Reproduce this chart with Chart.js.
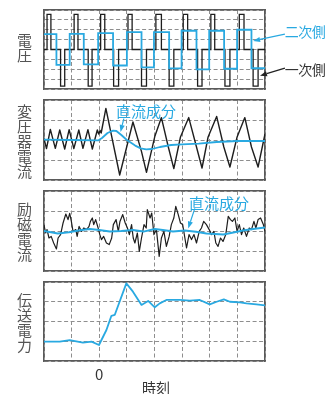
<!DOCTYPE html>
<html>
<head>
<meta charset="utf-8">
<script src="https://cdn.jsdelivr.net/npm/chart.js@4.4.1/dist/chart.umd.min.js"></script>
<style>
  html, body { margin: 0; padding: 0; background: #fff; }
  #wrap { position: relative; width: 331px; height: 394px; overflow: hidden;
          font-family: "Noto Sans CJK JP", "Noto Sans", sans-serif; }
  canvas { position: absolute; left: 0; }
  .vlab { position: absolute; left: 12px; width: 25px; text-align: center;
          color: #555; font-size: 15px; line-height: 15px; }
  .txt { position: absolute; white-space: nowrap; line-height: 1;
         transform: translate(-50%, -50%); }
</style>
</head>
<body>
<div id="wrap">
  <canvas id="c1"></canvas>
  <canvas id="c2"></canvas>
  <canvas id="c3"></canvas>
  <canvas id="c4"></canvas>

  <div class="vlab" style="top:32px">電<br>圧</div>
  <div class="vlab" style="top:103px">変<br>圧<br>器<br>電<br>流</div>
  <div class="vlab" style="top:201px">励<br>磁<br>電<br>流</div>
  <div class="vlab" style="top:292px">伝<br>送<br>電<br>力</div>

  <div class="txt" style="left:305px;top:31px;font-size:14px;letter-spacing:-0.5px;color:#29a9e1">二次側</div>
  <div class="txt" style="left:305px;top:69px;font-size:14px;letter-spacing:-0.5px;color:#333">一次側</div>
  <div class="txt" style="left:146px;top:110px;font-size:15px;color:#29a9e1">直流成分</div>
  <div class="txt" style="left:219px;top:202px;font-size:15px;color:#29a9e1">直流成分</div>

  <div id="tick0" class="txt" style="top:373px;font-size:15px;color:#333"></div>
  <div class="txt" style="left:156px;top:387px;font-size:14px;color:#333">時刻</div>
</div>

<script>
// Time axis is measured in grid divisions (8 per panel); the step occurs at division 2.
const timeTickValues = [2];
const timeTickLabels = ['0'];

// --- 電圧: primary (一次側) three-level pulses, edges in divisions
const priPosOn  = [0.11, 1.09, 2.05, 3.04, 4.05, 5.04, 6.04, 7.07];
const priPosOff = [0.25, 1.23, 2.20, 3.19, 4.25, 5.20, 6.18, 7.24];
const priNegOn  = [0.60, 1.60, 2.52, 3.53, 4.53, 5.56, 6.55, 7.57];
const priNegOff = [0.75, 1.74, 2.70, 3.71, 4.70, 5.72, 6.73, 7.75];
const priHigh = 3.55;
const priLow = -3.7;

// --- 電圧: secondary (二次側) square wave, switching instants and levels
const secEdges  = [0, 0.45, 0.93, 1.44, 1.96, 2.50, 3.00, 3.53, 3.98, 4.53, 4.98, 5.52, 5.98, 6.52, 6.99, 7.51, 8];
const secLevels = [1.55, -1.55, 1.58, -1.5, 1.65, -1.62, 1.75, -1.82, 1.75, -1.92, 1.9, -2.02, 1.9, -1.95, 2.0, -1.9];

// --- 変圧器電流 (transformer current)
const trX = [0, 0.09, 0.23, 0.41, 0.57, 0.75, 0.91, 1.08, 1.26, 1.41, 1.59, 1.75, 1.93, 1.98, 2.03, 2.07,
             2.24, 2.74, 3.22, 3.53, 3.71, 4.01, 4.25, 4.50, 4.70, 4.94, 5.24, 5.52, 5.72, 5.94,
             6.25, 6.51, 6.73, 6.99, 7.27, 7.51, 7.75, 8.0];
const trY = [0.07, -0.43, 0.53, -0.42, 0.5, -0.45, 0.52, -0.43, 0.5, -0.42, 0.52, -0.45, 0.5, 0.3, 0.48, 0.35,
             1.58, -1.75, 0.9, -0.58, -1.62, 0.17, 1.12, -0.35, -1.43, 0.15, 1.12, -0.35, -1.4, 0.15,
             1.18, -0.35, -1.35, 0.15, 1.12, -0.35, -1.35, 0.3];
const trDcX = [0, 1.0, 1.96, 2.1, 2.3, 2.5, 2.62, 2.8, 3.0, 3.3, 3.5, 3.7, 3.9, 4.2, 4.6, 5.0, 5.6, 6.25, 7.0, 8.0];
const trDcY = [0.02, 0.0, -0.02, 0.1, 0.35, 0.47, 0.45, 0.25, 0.0, -0.28, -0.42, -0.47, -0.45, -0.35, -0.25, -0.22, -0.18, -0.1, -0.05, -0.05];

// --- 励磁電流 (magnetizing current)
const exX = [0, 0.06, 0.11, 0.18, 0.26, 0.35, 0.45, 0.51, 0.6, 0.69, 0.79, 0.87, 0.93, 0.99, 1.05, 1.15, 1.2,
             1.27, 1.36, 1.44, 1.54, 1.63, 1.68, 1.75, 1.8, 1.87, 1.96, 2.02, 2.08, 2.16, 2.26, 2.36, 2.45,
             2.51, 2.61, 2.69, 2.75, 2.85, 2.94, 3.02, 3.09, 3.17, 3.23, 3.29, 3.38, 3.45, 3.53, 3.62, 3.7,
             3.74, 3.84, 3.9, 3.98, 4.07, 4.17, 4.25, 4.34, 4.43, 4.53, 4.61, 4.7, 4.77, 4.86, 4.94, 5.02,
             5.1, 5.16, 5.25, 5.34, 5.43, 5.52, 5.62, 5.7, 5.78, 5.88, 5.98, 6.06, 6.15, 6.22, 6.3, 6.39,
             6.48, 6.58, 6.67, 6.75, 6.82, 6.91, 6.99, 7.07, 7.15, 7.23, 7.33, 7.43, 7.51, 7.6, 7.67, 7.75,
             7.84, 7.94, 8.0];
const exY = [0.3, -0.1, 0.07, -0.35, -0.27, -0.6, -0.9, -0.35, -0.18, 0.4, 0.85, 0.57, 0.88, 0.48, -0.02, 0.07, -0.27,
             0.23, -0.02, 0.15, 0.07, 0.23, 0.48, 0.65, 0.32, 0.57, 0.15, -0.18, -0.43, -0.27, -0.6, -0.68, -0.35,
             0.32, 0.57, -0.02, 0.48, 0.82, 0.4, 0.15, -0.18, 0.32, -0.35, -0.6, -0.1, -1.02, -0.35, 0.32, 0.15,
             1.07, 0.65, 0.9, -0.18, 0.07, -1.27, -0.35, -0.02, -0.77, -0.27, 0.32, 0.65, 1.23, 0.82, 0.4, 0.32,
             -0.35, -0.85, -0.18, -0.43, -0.18, -0.6, -0.02, 0.15, 0.48, 0.32, 0.07, -0.18, -0.02, -0.6, -0.77, -0.35,
             -0.52, -0.18, 0.73, 0.57, 0.48, 0.65, -0.02, 0.32, -0.18, 0.15, -0.27, 0.15, 0.07, 0.48, 0.15, 0.57,
             0.65, 0.32, -0.02];
const exDcX = [0, 0.5, 0.9, 1.3, 1.66, 2.0, 2.38, 2.8, 3.22, 3.6, 4.01, 4.3, 4.67, 5.1, 5.5, 5.88, 6.2, 6.49, 6.9, 7.2, 7.57, 8.0];
const exDcY = [0.0, -0.12, -0.06, 0.04, 0.1, 0.05, -0.03, 0.0, 0.05, -0.03, 0.1, 0.05, -0.03, 0.02, -0.04, -0.12, -0.15, -0.17, -0.06, 0.02, 0.1, 0.18];

// --- 伝送電力 (transmitted power)
const powX = [0, 0.57, 0.93, 1.41, 1.72, 1.99, 2.26, 2.44, 2.56, 2.98, 3.22, 3.53, 3.77, 4.01, 4.19, 4.43,
              4.92, 5.28, 5.64, 6.0, 6.25, 6.51, 6.73, 7.09, 7.33, 7.69, 8.0];
const powY = [0.98, 0.98, 1.06, 0.93, 0.98, 0.81, 1.57, 2.29, 2.33, 3.93, 3.51, 2.84, 3.04, 2.72, 2.92, 3.09,
              3.09, 3.06, 3.09, 2.87, 3.0, 3.12, 3.0, 2.97, 2.92, 2.87, 2.82];

const BLUE = '#29a9e1';
const BLACK = '#1e1e1e';
const GRID = '#8e8e8e';
const FRAME = '#5a5a5a';

const pairs = (xs, ys) => xs.map((x, i) => ({ x, y: ys[i] }));

function primaryPoints() {
  const pts = [{ x: 0, y: 0 }];
  priPosOn.forEach((on, k) => {
    pts.push({ x: on, y: 0 }, { x: on, y: priHigh }, { x: priPosOff[k], y: priHigh }, { x: priPosOff[k], y: 0 });
    pts.push({ x: priNegOn[k], y: 0 }, { x: priNegOn[k], y: priLow }, { x: priNegOff[k], y: priLow }, { x: priNegOff[k], y: 0 });
  });
  pts.push({ x: 8, y: 0 });
  return pts;
}

function secondaryPoints() {
  const pts = [];
  secLevels.forEach((lv, i) => {
    pts.push({ x: secEdges[i], y: lv }, { x: secEdges[i + 1], y: lv });
  });
  return pts;
}

// small arrows pointing from a caption to a trace, placed in data units
function arrowPlugin(items) {
  return {
    id: 'captionArrows',
    afterDraw(chart) {
      const { ctx } = chart;
      const xs = chart.scales.x, ys = chart.scales.y;
      items.forEach(a => {
        const x1 = xs.getPixelForValue(a.from[0]), y1 = ys.getPixelForValue(a.from[1]);
        const x2 = xs.getPixelForValue(a.to[0]), y2 = ys.getPixelForValue(a.to[1]);
        const ang = Math.atan2(y2 - y1, x2 - x1);
        const c = Math.cos(ang), s = Math.sin(ang);
        const L = 7, W = 2.6;
        ctx.save();
        ctx.strokeStyle = a.color; ctx.fillStyle = a.color; ctx.lineWidth = 1.2;
        ctx.beginPath(); ctx.moveTo(x1, y1); ctx.lineTo(x2 - L * c, y2 - L * s); ctx.stroke();
        ctx.beginPath();
        ctx.moveTo(x2, y2);
        ctx.lineTo(x2 - L * c + W * s, y2 - L * s - W * c);
        ctx.lineTo(x2 - L * c - W * s, y2 - L * s + W * c);
        ctx.closePath(); ctx.fill();
        ctx.restore();
      });
    }
  };
}

function makePanel(id, top, height, yMin, yMax, datasets, arrows) {
  const pad = 4;
  const cv = document.getElementById(id);
  cv.width = 331; cv.height = height + 2 * pad;
  cv.style.top = (top - pad) + 'px';
  const hidden = (pos, axis) => ({
    type: 'linear', position: pos,
    min: axis === 'x' ? 0 : yMin, max: axis === 'x' ? 8 : yMax,
    ticks: { display: false },
    grid: { display: false, drawTicks: false },
    border: { display: true, color: FRAME, width: 1.6 }
  });
  return new Chart(cv, {
    type: 'line',
    data: { datasets },
    options: {
      responsive: false, animation: false, devicePixelRatio: 1,
      layout: { padding: { left: 44, right: 66, top: pad, bottom: pad } },
      plugins: { legend: { display: false }, tooltip: { enabled: false } },
      elements: { point: { radius: 0 }, line: { tension: 0 } },
      scales: {
        x: { type: 'linear', min: 0, max: 8,
             ticks: { display: false, stepSize: 1 },
             grid: { color: GRID, lineWidth: 1, drawTicks: false },
             border: { display: true, color: FRAME, width: 1.6, dash: [4, 2.5] } },
        xTop: hidden('top', 'x'),
        y: { type: 'linear', min: yMin, max: yMax,
             ticks: { display: false, stepSize: 1 },
             grid: { color: GRID, lineWidth: 1, drawTicks: false },
             border: { display: true, color: FRAME, width: 1.6, dash: [4, 2.5] } },
        yRight: hidden('right', 'y')
      }
    },
    plugins: [arrowPlugin(arrows || [])]
  });
}

makePanel('c1', 10, 79, -4, 4, [
  { data: secondaryPoints(), borderColor: BLUE, borderWidth: 1.8, borderJoinStyle: 'miter' },
  { data: primaryPoints(), borderColor: BLACK, borderWidth: 1.3, borderJoinStyle: 'miter' }
], [
  { from: [8.72, 1.55], to: [7.57, 0.87], color: BLUE },
  { from: [8.72, -1.88], to: [7.82, -2.66], color: '#222' }
]);

makePanel('c2', 100, 80, -2, 2, [
  { data: pairs(trDcX, trDcY), borderColor: BLUE, borderWidth: 1.8, borderJoinStyle: 'round' },
  { data: pairs(trX, trY), borderColor: BLACK, borderWidth: 1.4, borderJoinStyle: 'round' }
], [
  { from: [2.89, 1.07], to: [2.77, 0.4], color: BLUE }
]);

makePanel('c3', 191, 80, -2, 2, [
  { data: pairs(exDcX, exDcY), borderColor: BLUE, borderWidth: 2, borderJoinStyle: 'round' },
  { data: pairs(exX, exY), borderColor: BLACK, borderWidth: 1.2, borderJoinStyle: 'round' }
], [
  { from: [5.46, 1.13], to: [5.22, 0.13], color: BLUE }
]);

const powerChart = makePanel('c4', 282, 79, 0, 4, [
  { data: pairs(powX, powY), borderColor: BLUE, borderWidth: 1.8, borderJoinStyle: 'round' }
]);

// time-axis tick text under the bottom panel, placed through its x scale
const tickEl = document.getElementById('tick0');
tickEl.textContent = timeTickLabels[0];
tickEl.style.left = powerChart.scales.x.getPixelForValue(timeTickValues[0]) + 'px';
</script>
</body>
</html>
